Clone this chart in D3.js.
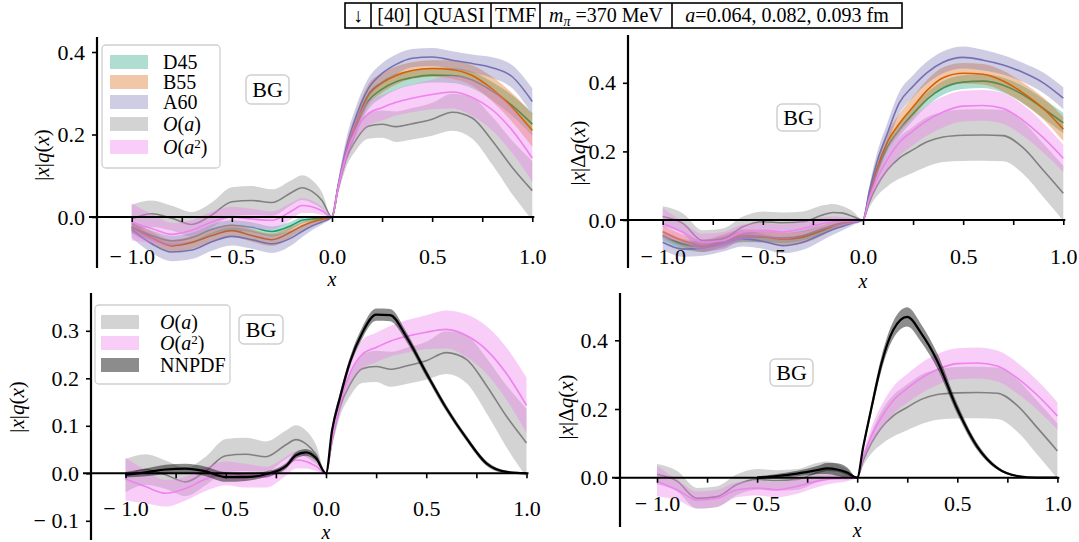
<!DOCTYPE html>
<html><head><meta charset="utf-8">
<script src="https://cdn.jsdelivr.net/npm/d3@7"></script>
<style>
body{margin:0;background:#fff;}
svg text{font-family:"Liberation Serif","Times New Roman",serif;fill:#000;}
</style></head><body>
<svg id="c" width="1079" height="542"></svg>
<script>
// ---------------- data ----------------
const xs = [-1,-0.9,-0.8,-0.7,-0.6,-0.5,-0.4,-0.3,-0.2,-0.15,-0.1,-0.05,0,0.03,0.07,0.12,0.18,0.25,0.32,0.4,0.5,0.6,0.7,0.8,0.9,1.0];

// unpolarized |x|q(x)
const uD45    = [-0.025,-0.045,-0.058,-0.05,-0.03,-0.02,-0.025,-0.035,-0.02,-0.008,-0.005,-0.003,0,0.07,0.15,0.219,0.28,0.31,0.328,0.338,0.344,0.343,0.332,0.305,0.27,0.225];
const uD45Err = [0.012,0.012,0.012,0.012,0.012,0.012,0.012,0.012,0.01,0.008,0.006,0.004,0,0.01,0.015,0.02,0.02,0.02,0.02,0.018,0.018,0.018,0.02,0.022,0.025,0.028];
const uB55    = [-0.025,-0.05,-0.07,-0.062,-0.045,-0.033,-0.045,-0.055,-0.035,-0.022,-0.012,-0.006,0,0.072,0.155,0.227,0.295,0.325,0.343,0.355,0.36,0.357,0.343,0.31,0.265,0.21];
const uB55Err = [0.015,0.015,0.015,0.015,0.015,0.015,0.015,0.015,0.012,0.01,0.008,0.005,0,0.012,0.02,0.025,0.025,0.024,0.022,0.02,0.02,0.022,0.025,0.03,0.035,0.04];
const uA60    = [-0.03,-0.065,-0.085,-0.08,-0.06,-0.047,-0.055,-0.065,-0.05,-0.035,-0.022,-0.012,0,0.075,0.165,0.243,0.31,0.348,0.37,0.385,0.388,0.38,0.372,0.362,0.34,0.28];
const uA60Err = [0.02,0.022,0.022,0.022,0.022,0.022,0.022,0.022,0.018,0.014,0.01,0.006,0,0.012,0.022,0.025,0.025,0.025,0.024,0.022,0.022,0.022,0.022,0.025,0.028,0.032];
const uOa     = [-0.005,0.008,-0.003,-0.018,0.005,0.037,0.04,0.035,0.06,0.071,0.062,0.04,0,0.068,0.14,0.187,0.22,0.225,0.219,0.226,0.237,0.254,0.24,0.185,0.12,0.064];
const uOaErr  = [0.035,0.032,0.03,0.03,0.03,0.035,0.035,0.032,0.03,0.03,0.028,0.02,0,0.012,0.02,0.025,0.03,0.033,0.037,0.038,0.04,0.045,0.05,0.058,0.065,0.072];
const uOa2    = [-0.012,-0.028,-0.042,-0.032,-0.012,0.0,-0.005,-0.008,0.015,0.028,0.025,0.015,0,0.07,0.148,0.211,0.25,0.265,0.278,0.288,0.297,0.303,0.29,0.26,0.21,0.143];
const uOa2Err = [0.045,0.035,0.028,0.025,0.025,0.025,0.025,0.022,0.02,0.018,0.015,0.01,0,0.012,0.02,0.025,0.03,0.031,0.032,0.034,0.036,0.04,0.045,0.05,0.055,0.058];
const uNN     = [-0.003,0.002,0.008,0.01,0.004,-0.008,-0.008,-0.002,0.015,0.038,0.044,0.032,0,0.09,0.16,0.235,0.295,0.334,0.333,0.288,0.211,0.137,0.074,0.021,0.003,0];
const uNNErr  = [0.006,0.008,0.01,0.01,0.01,0.01,0.008,0.006,0.006,0.007,0.007,0.006,0,0.008,0.01,0.01,0.012,0.013,0.013,0.01,0.008,0.007,0.006,0.005,0.003,0.002];

// polarized |x|Δq(x)
const pD45    = [-0.045,-0.07,-0.078,-0.065,-0.05,-0.05,-0.052,-0.045,-0.025,-0.015,-0.008,-0.004,0,0.065,0.14,0.21,0.262,0.31,0.352,0.385,0.402,0.405,0.393,0.365,0.325,0.283];
const pD45Err = [0.015,0.015,0.015,0.015,0.015,0.015,0.015,0.015,0.012,0.01,0.008,0.005,0,0.01,0.015,0.018,0.02,0.02,0.02,0.02,0.02,0.02,0.022,0.025,0.028,0.03];
const pB55    = [-0.034,-0.06,-0.075,-0.06,-0.045,-0.048,-0.056,-0.05,-0.03,-0.018,-0.01,-0.005,0,0.068,0.15,0.225,0.28,0.33,0.378,0.415,0.428,0.425,0.405,0.37,0.325,0.265];
const pB55Err = [0.018,0.018,0.018,0.018,0.018,0.018,0.018,0.018,0.015,0.012,0.01,0.006,0,0.012,0.02,0.025,0.028,0.03,0.03,0.03,0.03,0.03,0.03,0.03,0.032,0.035];
const pA60    = [-0.065,-0.085,-0.082,-0.07,-0.055,-0.062,-0.075,-0.065,-0.04,-0.028,-0.018,-0.008,0,0.08,0.17,0.25,0.34,0.39,0.43,0.46,0.474,0.466,0.452,0.43,0.4,0.355];
const pA60Err = [0.022,0.022,0.022,0.022,0.022,0.022,0.022,0.022,0.018,0.015,0.012,0.007,0,0.015,0.025,0.03,0.032,0.032,0.032,0.032,0.032,0.03,0.028,0.028,0.03,0.032];
const pOa     = [0.01,-0.01,-0.06,-0.055,-0.02,-0.005,-0.008,-0.005,0.015,0.022,0.02,0.01,0,0.05,0.1,0.145,0.18,0.205,0.228,0.242,0.247,0.248,0.246,0.21,0.145,0.078];
const pOaErr  = [0.03,0.03,0.03,0.03,0.03,0.03,0.03,0.03,0.028,0.025,0.02,0.015,0,0.015,0.03,0.048,0.06,0.067,0.072,0.073,0.075,0.075,0.075,0.076,0.078,0.08];
const pOa2    = [-0.01,-0.035,-0.065,-0.06,-0.035,-0.03,-0.035,-0.025,-0.01,-0.005,-0.003,-0.002,0,0.06,0.12,0.175,0.225,0.26,0.29,0.315,0.332,0.334,0.325,0.29,0.24,0.18];
const pOa2Err = [0.045,0.03,0.025,0.025,0.022,0.022,0.022,0.022,0.018,0.015,0.012,0.008,0,0.012,0.025,0.035,0.04,0.042,0.044,0.045,0.045,0.045,0.045,0.045,0.043,0.04];
const pNN     = [null,null,null,null,null,0,0.005,0.012,0.022,0.027,0.024,0.015,0,0.09,0.2,0.33,0.43,0.468,0.42,0.34,0.2,0.09,0.028,0.005,0,0];
const pNNErr  = [null,null,null,null,null,0.004,0.006,0.008,0.012,0.016,0.018,0.015,0,0.01,0.015,0.02,0.025,0.028,0.026,0.022,0.015,0.01,0.005,0.002,0,0];

const xMajorTicks = [-1,-0.5,0,0.5,1];
const xMinorTicks = [-1,-0.75,-0.5,-0.25,0,0.25,0.5,0.75,1];
const legendTop = ["D45","B55","A60","O(a)","O(a2)"];
const legendBottom = ["O(a)","O(a2)","NNPDF"];
const headerCells = ["↓","[40]","QUASI","TMF","mpi","a"];

// ---------------- style ----------------
const COL = {D45:"#1b9e77", B55:"#d95f02", A60:"#7570b3", "O(a)":"#808080", "O(a2)":"#ee82ee", NNPDF:"#000000"};
const FILLOP = {D45:0.35, B55:0.35, A60:0.35, "O(a)":0.35, "O(a2)":0.4, NNPDF:0.45};
const LW = {D45:1.6, B55:1.6, A60:1.6, "O(a)":1.6, "O(a2)":1.6, NNPDF:2.2};
const TICKFS = 22;

const svg = d3.select("#c");

function tickFmt(v){ const s = Math.abs(v).toFixed(1); return v < 0 ? "\u2212 " + s : s; }

function mathLabel(g, parts){
  const t = g.append("text");
  parts.forEach(p => t.append("tspan").text(p[0]).attr("font-style", p[1] ? "italic" : "normal"));
  return t;
}

function drawPanel(cfg){
  const g = svg.append("g");
  const x = d3.scaleLinear().domain([-1,1]).range(cfg.xr);
  const y = d3.scaleLinear().domain([0,1]).range([cfg.y0, cfg.y0 - cfg.yk]);

  cfg.series.forEach(s => {
    const pts = xs.map((xv,i) => ({x:xv, v:s.v[i], e:s.e[i]}));
    const area = d3.area().defined(d => d.v != null)
      .x(d => x(d.x)).y0(d => y(d.v - d.e)).y1(d => y(d.v + d.e))
      .curve(d3.curveMonotoneX);
    const line = d3.line().defined(d => d.v != null)
      .x(d => x(d.x)).y(d => y(d.v)).curve(d3.curveMonotoneX);
    g.append("path").attr("d", area(pts)).attr("fill", COL[s.k]).attr("fill-opacity", FILLOP[s.k]).attr("stroke","none");
    g.append("path").attr("d", line(pts)).attr("fill","none").attr("stroke", COL[s.k]).attr("stroke-width", LW[s.k]).attr("stroke-linejoin","round");
  });

  g.append("line").attr("x1", cfg.spineX - 8).attr("x2", cfg.xr[1] + 2)
    .attr("y1", y(0)).attr("y2", y(0)).attr("stroke","#000").attr("stroke-width",2);
  const xt = g.append("g").attr("transform", `translate(0,${y(0)})`)
    .call(d3.axisBottom(x).tickValues(xMinorTicks).tickSize(5).tickFormat(""));
  xt.select(".domain").remove();
  xt.selectAll("line").attr("stroke-width",1.6);
  const xl = g.append("g").attr("transform", `translate(0,${cfg.labY - 8})`)
    .call(d3.axisBottom(x).tickValues(xMajorTicks).tickSize(0).tickPadding(0).tickFormat(tickFmt));
  xl.select(".domain").remove();
  xl.selectAll("text").attr("font-size", TICKFS).attr("font-family","Liberation Serif");

  g.append("text").attr("x", x(0)).attr("y", cfg.xlabB).attr("text-anchor","middle")
    .attr("font-size",20).attr("font-style","italic").text("x");

  g.append("line").attr("x1", cfg.spineX).attr("x2", cfg.spineX)
    .attr("y1", cfg.spineY[0]).attr("y2", cfg.spineY[1]).attr("stroke","#000").attr("stroke-width",2.2);
  const ya = g.append("g").attr("transform", `translate(${cfg.spineX},0)`)
    .call(d3.axisLeft(y).tickValues(cfg.yticks).tickSize(5).tickPadding(7).tickFormat(tickFmt));
  ya.select(".domain").remove();
  ya.selectAll("line").attr("stroke-width",1.6);
  ya.selectAll("text").attr("font-size", TICKFS).attr("font-family","Liberation Serif");

  const yl = g.append("g").attr("transform", `translate(${cfg.ylabPos[0]},${cfg.ylabPos[1]}) rotate(-90)`);
  const parts = cfg.pol
    ? [["|",0],["x",1],["|",0],["\u0394",0],["q",1],["(",0],["x",1],[")",0]]
    : [["|",0],["x",1],["|",0],["q",1],["(",0],["x",1],[")",0]];
  mathLabel(yl, parts).attr("text-anchor","middle").attr("dy","0.35em").attr("font-size",21);

  const b = cfg.bg;
  g.append("rect").attr("x", b[0]).attr("y", b[1]).attr("width", b[2]).attr("height", b[3])
    .attr("rx",5).attr("fill","#fff").attr("fill-opacity",0.85).attr("stroke","#d0d0d0").attr("stroke-width",1.5);
  g.append("text").attr("x", b[0] + b[2]/2).attr("y", b[1] + b[3]/2).attr("dy","0.35em")
    .attr("text-anchor","middle").attr("font-size",22).text("BG");

  if (cfg.legend){
    const L = cfg.legend;
    g.append("rect").attr("x", L.box[0]).attr("y", L.box[1]).attr("width", L.box[2]).attr("height", L.box[3])
      .attr("rx",4).attr("fill","#fff").attr("fill-opacity",0.8).attr("stroke","#d0d0d0").attr("stroke-width",1.3);
    L.keys.forEach((k,i) => {
      const cy = L.rows[i];
      g.append("rect").attr("x", L.px).attr("y", cy - 7).attr("width", 38).attr("height", 14)
        .attr("fill", COL[k]).attr("fill-opacity", FILLOP[k]);
      const t = g.append("text").attr("x", L.tx).attr("y", cy).attr("dy","0.35em").attr("font-size",20);
      if (k === "O(a)"){
        t.append("tspan").attr("font-style","italic").text("O");
        t.append("tspan").text("(");
        t.append("tspan").attr("font-style","italic").text("a");
        t.append("tspan").text(")");
      } else if (k === "O(a2)"){
        t.append("tspan").attr("font-style","italic").text("O");
        t.append("tspan").text("(");
        t.append("tspan").attr("font-style","italic").text("a");
        t.append("tspan").attr("font-size",13).attr("dy",-6).text("2");
        t.append("tspan").attr("dy",6).text(")");
      } else {
        t.text(k);
      }
    });
  }
}

const seriesTop = (pol) => pol ? [
  {k:"D45", v:pD45, e:pD45Err},{k:"B55", v:pB55, e:pB55Err},{k:"A60", v:pA60, e:pA60Err},
  {k:"O(a)", v:pOa, e:pOaErr},{k:"O(a2)", v:pOa2, e:pOa2Err}] : [
  {k:"D45", v:uD45, e:uD45Err},{k:"B55", v:uB55, e:uB55Err},{k:"A60", v:uA60, e:uA60Err},
  {k:"O(a)", v:uOa, e:uOaErr},{k:"O(a2)", v:uOa2, e:uOa2Err}];

drawPanel({xr:[131.7,532.3], y0:217, yk:412.5, spineX:97, spineY:[37,268], yticks:[0,0.2,0.4],
  labY:256, xlabB:286, ylabPos:[42,155], pol:false, bg:[246,75,43,29],
  series: seriesTop(false),
  legend:{box:[102,45,118,123], keys:legendTop, rows:[62,82,102,124,147], px:110, tx:163}});

drawPanel({xr:[662.7,1063.3], y0:220, yk:343, spineX:628, spineY:[35,268], yticks:[0,0.2,0.4],
  labY:256, xlabB:288, ylabPos:[578,153], pol:true, bg:[777,104,43,27],
  series: seriesTop(true)});

drawPanel({xr:[125.5,526.5], y0:473.3, yk:475, spineX:91, spineY:[293,540], yticks:[-0.1,0,0.1,0.2,0.3],
  labY:508, xlabB:539, ylabPos:[17,407], pol:false, bg:[239,315,44,29],
  series:[{k:"O(a)", v:uOa, e:uOaErr},{k:"O(a2)", v:uOa2, e:uOa2Err},{k:"NNPDF", v:uNN, e:uNNErr}],
  legend:{box:[95,305,135,79], keys:legendBottom, rows:[322,343,365], px:101, tx:160}});

drawPanel({xr:[657,1057.4], y0:477.7, yk:343.5, spineX:620, spineY:[293,527], yticks:[0,0.2,0.4],
  labY:503, xlabB:537, ylabPos:[566,407], pol:true, bg:[770,359,43,27],
  series:[{k:"O(a)", v:pOa, e:pOaErr},{k:"O(a2)", v:pOa2, e:pOa2Err},{k:"NNPDF", v:pNN, e:pNNErr}]});

// ---------------- header table ----------------
const hEdges = [345,371,417,491,540,672,902];
const hY0 = 3, hY1 = 28;
const hg = svg.append("g");
hg.append("rect").attr("x", hEdges[0]).attr("y", hY0).attr("width", hEdges[6]-hEdges[0]).attr("height", hY1-hY0)
  .attr("fill","#fff").attr("stroke","#000").attr("stroke-width",1.6);
hEdges.slice(1,-1).forEach(e => hg.append("line").attr("x1",e).attr("x2",e).attr("y1",hY0).attr("y2",hY1).attr("stroke","#000").attr("stroke-width",1.6));
headerCells.forEach((c,i) => {
  const cx = (hEdges[i] + hEdges[i+1]) / 2;
  const t = hg.append("text").attr("x", cx).attr("y", 22).attr("text-anchor","middle").attr("font-size",20);
  if (c === "mpi"){
    t.append("tspan").attr("font-style","italic").text("m");
    t.append("tspan").attr("font-style","italic").attr("font-size",14).attr("dy",4).text("π");
    t.append("tspan").attr("dy",-4).text(" =370 MeV");
  } else if (c === "a"){
    t.append("tspan").attr("font-style","italic").text("a");
    t.append("tspan").text("=0.064, 0.082, 0.093 fm");
  } else if (c === "[40]"){
    t.attr("fill","#4b4ba6").text(c);
  } else {
    t.text(c);
  }
});
</script>
</body></html>
